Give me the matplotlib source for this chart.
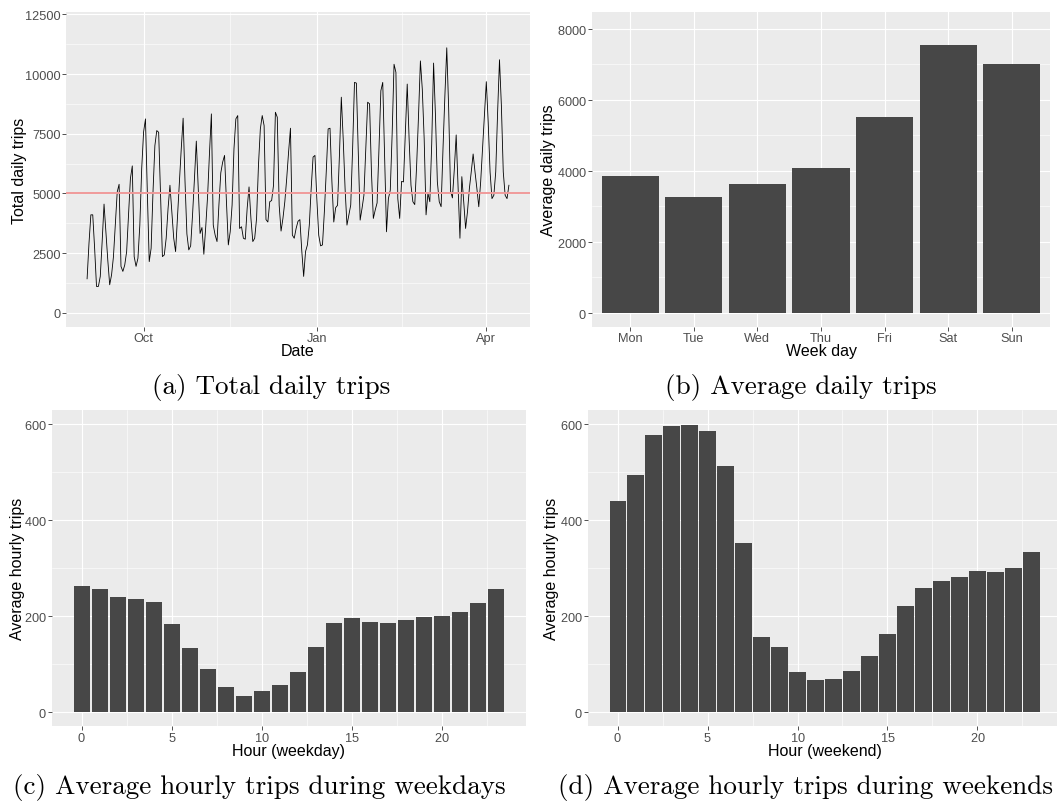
import numpy as np
import pandas as pd
import matplotlib
matplotlib.use('Agg')
import matplotlib.pyplot as plt
import matplotlib.dates as mdates
from matplotlib.ticker import FixedLocator

# daily trip totals, 2016-09-01 .. 2017-04-13
daily_trips = [
    1420, 2900, 4100, 4100, 2700, 1100, 1100,
    1520, 2980, 4550, 3370, 2190, 1170, 1590,
    2350, 3670, 5060, 5380, 1940, 1730, 2000,
    2560, 4090, 5620, 6150, 2350, 1940, 2280,
    3670, 6040, 7570, 8120, 5000, 2140, 2700,
    5060, 7000, 7630, 7560, 4900, 2350, 2420,
    3120, 4370, 5340, 4230, 3120, 2560, 4030,
    5450, 6870, 8150, 5500, 3300, 2630, 2800,
    4100, 5600, 7190, 5200, 3320, 3570, 2450,
    3600, 4900, 6700, 8330, 3670, 3250, 2980,
    4510, 5860, 6310, 6590, 4650, 2840, 3390,
    4510, 6870, 8120, 8260, 3530, 3600, 3120,
    3080, 4370, 5270, 3950, 2980, 3120, 3950,
    6170, 7700, 8260, 7840, 3900, 3800, 4650,
    4700, 5340, 8400, 8190, 4500, 3420, 3950,
    4650, 5620, 6730, 7730, 3250, 3120, 3530,
    3830, 3900, 2600, 1520, 2560, 2840, 3670,
    5200, 6520, 6590, 4780, 3250, 2800, 2840,
    4230, 5900, 7700, 7730, 5500, 3800, 4400,
    4500, 6590, 9030, 7290, 5200, 3670, 4090,
    4510, 6870, 9650, 9620, 6730, 3880, 4370,
    4920, 6870, 8820, 8750, 5900, 3950, 4300,
    4600, 6870, 9300, 9650, 6450, 3390, 4780,
    5130, 7500, 10410, 10070, 4780, 3950, 5500,
    5480, 7570, 9580, 7290, 5340, 4650, 4530,
    6170, 8260, 10550, 9370, 7290, 4100, 5000,
    4650, 7060, 10460, 8260, 5480, 4650, 4440,
    6870, 9090, 11100, 8580, 5100, 4810, 6000,
    7450, 5340, 3120, 5700, 4650, 3530, 4230,
    5200, 5900, 6650, 5900, 5200, 4440, 5480,
    6870, 8260, 9680, 7980, 5900, 4780, 4920,
    5900, 8400, 10600, 8680, 5900, 4920, 4780,
    5340,
]
start_date = '2016-09-01'
ref_level = 5000

week_days = ['Mon', 'Tue', 'Wed', 'Thu', 'Fri', 'Sat', 'Sun']
avg_daily = [3850, 3250, 3620, 4080, 5520, 7550, 7000]

hours = list(range(24))
weekday_hourly = [263, 256, 240, 235, 228, 183, 133, 90, 52, 33, 44, 55,
                  82, 135, 185, 195, 188, 185, 192, 198, 200, 208, 226, 256]
weekend_hourly = [440, 494, 578, 596, 598, 587, 512, 352, 155, 134, 82, 66,
                  68, 85, 116, 162, 220, 258, 272, 282, 293, 292, 300, 334]

W, H = 1057, 803
PANEL = '#EBEBEB'
BAR = '#474747'
TXT = '#4D4D4D'
sans = ['Liberation Sans', 'DejaVu Sans']
serif = ['cmr10', 'DejaVu Serif']
plt.rcParams['axes.formatter.use_mathtext'] = True


def rect(l, t, r, b):
    return [l / W, 1 - b / H, (r - l) / W, (b - t) / H]


def gg_style(ax, xminor=None, yminor=None):
    ax.set_facecolor(PANEL)
    for s in ax.spines.values():
        s.set_visible(False)
    ax.grid(which='major', color='white', linewidth=0.85)
    ax.grid(which='minor', color='white', linewidth=0.4)
    ax.set_axisbelow(True)
    if xminor is not None:
        ax.xaxis.set_minor_locator(FixedLocator(xminor))
    if yminor is not None:
        ax.yaxis.set_minor_locator(FixedLocator(yminor))
    ax.tick_params(which='major', length=2.75, width=0.6, color='#333333',
                   labelcolor=TXT, labelsize=9.2, pad=1)
    ax.tick_params(which='minor', length=0)
    for lab in ax.get_xticklabels() + ax.get_yticklabels():
        lab.set_family(sans)


fig = plt.figure(figsize=(W / 100, H / 100), dpi=100)
fig.patch.set_facecolor('white')

# (a) total daily trips
dates = pd.date_range(start_date, periods=len(daily_trips), freq='D')
ax1 = fig.add_axes(rect(66, 13, 530, 328))
ax1.plot(dates, daily_trips, color='black', linewidth=0.6)
ax1.axhline(ref_level, color='#F09A9A', linewidth=1.4)
ax1.set_xlim(dates[0] - pd.Timedelta(days=11.2), dates[-1] + pd.Timedelta(days=11.2))
ax1.set_ylim(-600, 12600)
ax1.xaxis.set_major_locator(FixedLocator(mdates.date2num(pd.to_datetime(['2016-10-01', '2017-01-01', '2017-04-01']))))
ax1.xaxis.set_major_formatter(mdates.DateFormatter('%b'))
ax1.set_yticks([0, 2500, 5000, 7500, 10000, 12500])
ax1.set_yticklabels(['0', '2500', '5000', '7500', '10000', '12500'])
gg_style(ax1,
         xminor=mdates.date2num(pd.to_datetime(['2016-11-16', '2017-02-15'])),
         yminor=[1250, 3750, 6250, 8750, 11250])
ax1.set_xlabel('Date', family=sans, fontsize=11.5, labelpad=-1)
ax1.set_ylabel('Total daily trips', family=sans, fontsize=11.5, labelpad=-1)

# (b) average daily trips by weekday
ax2 = fig.add_axes(rect(592, 13, 1050, 328))
xpos = np.arange(1, len(week_days) + 1)
ax2.bar(xpos, avg_daily, width=0.9, color=BAR)
ax2.set_xlim(0.4, 7.6)
ax2.set_ylim(-400, 8470)
ax2.set_xticks(xpos)
ax2.set_xticklabels(week_days)
ax2.set_yticks([0, 2000, 4000, 6000, 8000])
gg_style(ax2, yminor=[1000, 3000, 5000, 7000])
ax2.set_xlabel('Week day', family=sans, fontsize=11.5, labelpad=-1)
ax2.set_ylabel('Average daily trips', family=sans, fontsize=11.5, labelpad=1)

# (c) and (d) hourly trips
for hourly, l, r, xl, lp in [(weekday_hourly, 52, 526, 'Hour (weekday)', -1),
                             (weekend_hourly, 588, 1061, 'Hour (weekend)', 1)]:
    ax = fig.add_axes(rect(l, 411, r, 727))
    ax.bar(hours, hourly, width=0.9, color=BAR)
    ax.set_xlim(-1.645, 24.645)
    ax.set_ylim(-30, 630)
    ax.set_xticks([0, 5, 10, 15, 20])
    ax.set_yticks([0, 200, 400, 600])
    gg_style(ax, xminor=[2.5, 7.5, 12.5, 17.5, 22.5], yminor=[100, 300, 500])
    ax.set_xlabel(xl, family=sans, fontsize=11.5, labelpad=-1)
    ax.set_ylabel('Average hourly trips', family=sans, fontsize=11.5, labelpad=lp)

# sub-captions
caps = [(271, 388, '(a) Total daily trips'),
        (801, 388, '(b) Average daily trips'),
        (259, 788, '(c) Average hourly trips during weekdays'),
        (806, 788, '(d) Average hourly trips during weekends')]
for x, y, s in caps:
    fig.text(x / W, 1 - y / H, s, ha='center', va='center', family=serif, fontsize=19.5)

fig.savefig('out.png', dpi=100)
